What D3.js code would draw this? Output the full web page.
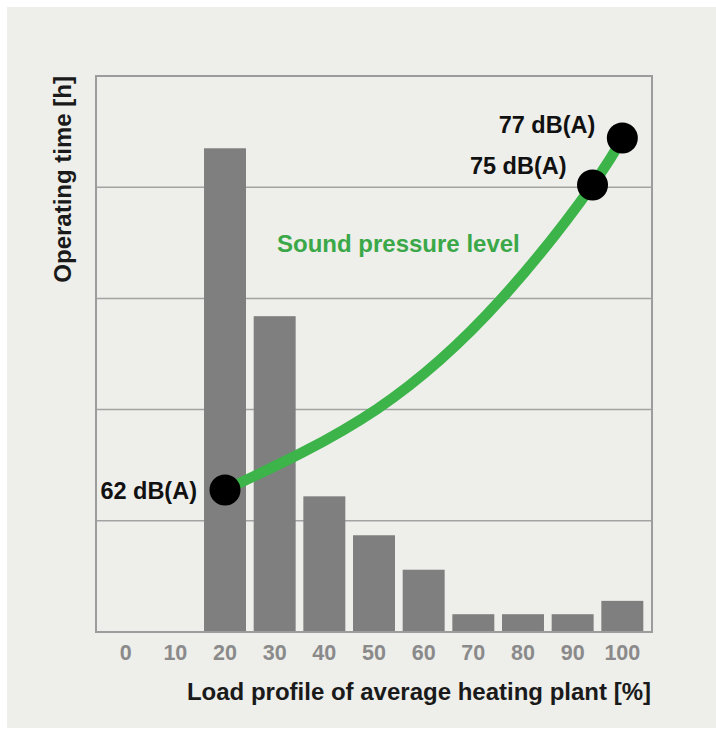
<!DOCTYPE html>
<html lang="en">
<head>
    <meta charset="UTF-8">
    <title>Operating time and sound pressure level</title>
    <script src="https://cdn.jsdelivr.net/npm/d3@7"></script>
    <style>
        body { margin: 0; background: #fff; }
        text { font-family: "Liberation Sans", Arial, sans-serif; font-weight: bold; }
    </style>
</head>
<body>
<script>

    // Data ////////////////////////////////////
    var loadCategories = ['0', '10', '20', '30', '40', '50', '60', '70', '80', '90', '100'];
    var operatingTime = [0, 0, 4.35, 2.84, 1.22, 0.87, 0.56, 0.16, 0.16, 0.16, 0.28];
    var yGridTicks = [1, 2, 3, 4];

    // sound pressure curve (load %, dB(A))
    var soundLoad = [20, 50.6, 75.8, 94, 100];
    var soundDb = [62, 65.45, 70.18, 75, 77];

    // marked points on the curve
    var markLoad = [20, 94, 100];
    var markDb = [62, 75, 77];
    var markLabel = ['62 dB(A)', '75 dB(A)', '77 dB(A)'];

    // Layout ////////////////////////////////////
    var width = 716, height = 729;
    var plot = {left: 96, right: 652, top: 76, bottom: 632};

    var svg = d3.select('body').append('svg')
            .attr('width', width).attr('height', height);

    svg.append('rect')
            .attr('x', 7).attr('y', 7)
            .attr('width', width - 7).attr('height', height - 8)
            .attr('fill', '#eeeeea');

    // Scales
    var x = d3.scaleBand()
            .domain(loadCategories)
            .range([plot.left, plot.right])
            .paddingInner(0.155)
            .paddingOuter(0.175);

    var y = d3.scaleLinear()
            .domain([0, 5])
            .range([plot.bottom, plot.top]);

    var xLoad = d3.scaleLinear()
            .domain([20, 100])
            .range([x('20') + x.bandwidth() / 2, x('100') + x.bandwidth() / 2]);

    var yDb = d3.scaleLinear()
            .domain([62, 77])
            .range([490, 138]);

    // Grid
    svg.append('g').selectAll('line')
            .data(yGridTicks)
            .enter().append('line')
            .attr('x1', plot.left).attr('x2', plot.right)
            .attr('y1', function (d) { return y(d); })
            .attr('y2', function (d) { return y(d); })
            .attr('stroke', '#a3a3a3')
            .attr('stroke-width', 1.5);

    // Bars
    svg.append('g').selectAll('rect')
            .data(operatingTime)
            .enter().append('rect')
            .attr('x', function (d, i) { return x(loadCategories[i]); })
            .attr('y', function (d) { return y(d); })
            .attr('width', x.bandwidth())
            .attr('height', function (d) { return y(0) - y(d); })
            .attr('fill', '#7f7f7f');

    // Frame
    svg.append('rect')
            .attr('x', plot.left).attr('y', plot.top)
            .attr('width', plot.right - plot.left)
            .attr('height', plot.bottom - plot.top)
            .attr('fill', 'none')
            .attr('stroke', '#9c9c9c')
            .attr('stroke-width', 2);

    // X tick labels
    svg.append('g').selectAll('text')
            .data(loadCategories)
            .enter().append('text')
            .attr('x', function (d) { return x(d) + x.bandwidth() / 2; })
            .attr('y', 660)
            .attr('text-anchor', 'middle')
            .attr('font-size', 21.5)
            .attr('fill', '#8a8a8a')
            .text(function (d) { return d; });

    // Axis titles
    svg.append('text')
            .attr('x', plot.right - 1)
            .attr('y', 700)
            .attr('text-anchor', 'end')
            .attr('font-size', 24)
            .attr('fill', '#1a1a1a')
            .text('Load profile of average heating plant [%]');

    svg.append('text')
            .attr('transform', 'translate(71,' + plot.top + ') rotate(-90)')
            .attr('text-anchor', 'end')
            .attr('font-size', 24)
            .attr('fill', '#1a1a1a')
            .text('Operating time [h]');

    // Sound pressure curve
    var line = d3.line()
            .x(function (d, i) { return xLoad(soundLoad[i]); })
            .y(function (d) { return yDb(d); })
            .curve(d3.curveNatural);

    svg.append('path')
            .datum(soundDb)
            .attr('d', line)
            .attr('fill', 'none')
            .attr('stroke', '#3cb44a')
            .attr('stroke-width', 10.5);

    svg.append('text')
            .attr('x', 277)
            .attr('y', 252)
            .attr('font-size', 24)
            .attr('fill', '#3aa848')
            .text('Sound pressure level');

    // Marked points
    var labelOffset = [[-28, 9], [-26, -11], [-27, -5]];

    svg.append('g').selectAll('circle')
            .data(markDb)
            .enter().append('circle')
            .attr('cx', function (d, i) { return xLoad(markLoad[i]); })
            .attr('cy', function (d) { return yDb(d); })
            .attr('r', 15.5)
            .attr('fill', '#000');

    svg.append('g').selectAll('text')
            .data(markDb)
            .enter().append('text')
            .attr('x', function (d, i) { return xLoad(markLoad[i]) + labelOffset[i][0]; })
            .attr('y', function (d, i) { return yDb(d) + labelOffset[i][1]; })
            .attr('text-anchor', 'end')
            .attr('font-size', 23.5)
            .attr('fill', '#111')
            .text(function (d, i) { return markLabel[i]; });

</script>
</body>
</html>
